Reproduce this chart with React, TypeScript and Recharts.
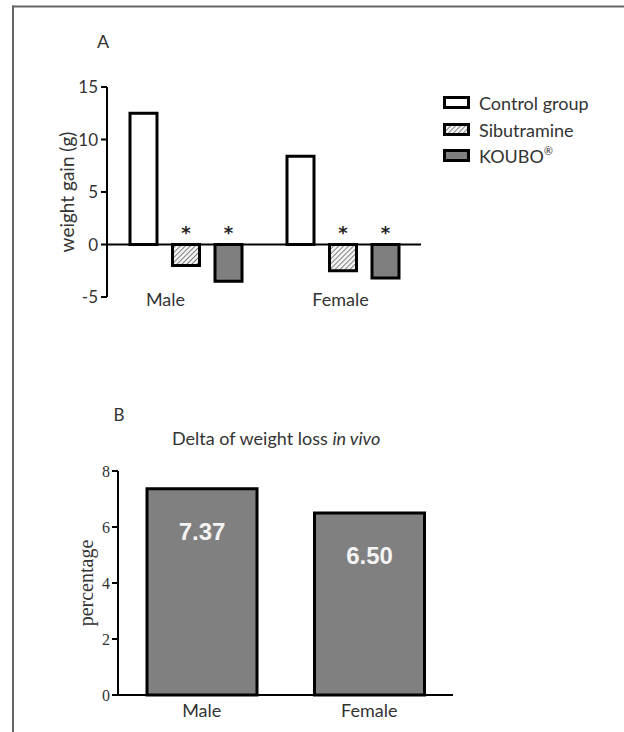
import React from 'react';
import { BarChart, Bar, XAxis, YAxis, ReferenceLine, Legend, LabelList } from 'recharts';

// ---------- data ----------
const sexes = ['Male', 'Female'];
const controlGain = [12.5, 8.4];
const sibutramineGain = [-2.0, -2.5];
const kouboGain = [-3.5, -3.2];
const gainTicks = [-5, 0, 5, 10, 15];
const seriesNames = ['Control group', 'Sibutramine', 'KOUBO®'];

const lossPercent = [7.37, 6.5];
const lossTicks = [0, 2, 4, 6, 8];

const gainData = sexes.map((s, i) => ({
  sex: s,
  control: controlGain[i],
  sibutramine: sibutramineGain[i],
  koubo: kouboGain[i],
}));
const lossData = sexes.map((s, i) => ({ sex: s, loss: lossPercent[i] }));

// ---------- styles ----------
const SANS = 'Lato, "Open Sans", sans-serif';
const SERIF = '"Liberation Serif", "DejaVu Serif", serif';
const TEXT = '#333';
const tickShiftA: Record<string, number> = { Male: -20, Female: -2 };

const GainTick = (props: any) => {
  const { x, y, payload } = props;
  return (
    <text x={x + (tickShiftA[payload.value] ?? 0)} y={y + 9} textAnchor="middle" fontFamily={SANS} fontSize={18} fill={TEXT}>
      {payload.value}
    </text>
  );
};

const LossTick = (props: any) => {
  const { x, y, payload } = props;
  return (
    <text x={x} y={y + 22} textAnchor="middle" fontFamily={SANS} fontSize={18} fill={TEXT}>
      {payload.value}
    </text>
  );
};

const Star = (props: any) => {
  const { x, y, width, height } = props;
  const top = Math.min(y, y + height);
  return (
    <text x={x + width / 2} y={top - 6} textAnchor="middle" fontFamily="DejaVu Sans" fontWeight="bold" fontSize={18} fill="#222">
      *
    </text>
  );
};

const ValueLabel = (props: any) => {
  const { x, y, width, value } = props;
  return (
    <text x={x + width / 2} y={y + 51} textAnchor="middle" fontFamily='"Liberation Sans", Arial, sans-serif' fontWeight="bold" fontSize={24} fill="#f4f4f4">
      {Number(value).toFixed(2)}
    </text>
  );
};

const renderName = (name: string) => {
  if (name.endsWith('®')) {
    return (
      <>
        {name.slice(0, -1)}
        <span style={{ fontSize: 11, verticalAlign: 'top', position: 'relative', top: -1 }}>®</span>
      </>
    );
  }
  return name;
};

const LegendContent = (props: any) => {
  const payload = [...(props.payload || [])].sort(
    (a: any, b: any) => seriesNames.indexOf(a.value) - seriesNames.indexOf(b.value)
  );
  return (
    <div style={{ fontFamily: SANS, fontSize: 18, color: TEXT }}>
      {payload.map((e: any) => (
        <div key={e.value} style={{ display: 'flex', alignItems: 'center', height: 26.5 }}>
          <svg width={28} height={14} style={{ marginRight: 8, overflow: 'visible' }}>
            <rect x={1.5} y={1.5} width={24} height={10} fill={e.color} stroke="#000" strokeWidth={3} />
          </svg>
          <span>{renderName(e.value)}</span>
        </div>
      ))}
    </div>
  );
};

export default function App() {
  return (
    <div style={{ position: 'absolute', left: 0, top: 0, width: 624, height: 732, background: '#fff', overflow: 'hidden' }}>
      <svg width={0} height={0} style={{ position: 'absolute' }}>
        <defs>
          <pattern id="hatch" patternUnits="userSpaceOnUse" width={3.5} height={3.5} patternTransform="rotate(45)">
            <rect width={3.5} height={3.5} fill="#f2f2f2" />
            <line x1={0} y1={0} x2={0} y2={3.5} stroke="#6a6a6a" strokeWidth={1.6} />
          </pattern>
        </defs>
      </svg>

      {/* Panel A */}
      <div style={{ position: 'absolute', left: 0, top: 0 }}>
        <BarChart
          width={624}
          height={340}
          data={gainData}
          margin={{ top: 87, right: 203, bottom: 13, left: 27 }}
          barSize={27}
          barGap={15.5}
        >
          <XAxis dataKey="sex" axisLine={false} tickLine={false} tickSize={0} tickMargin={0} height={30} tick={<GainTick />} />
          <YAxis
            width={80}
            domain={[-5, 15]}
            ticks={gainTicks}
            interval={0}
            tickSize={6}
            tickMargin={3}
            axisLine={{ stroke: '#000', strokeWidth: 2 }}
            tickLine={{ stroke: '#000', strokeWidth: 2 }}
            tick={{ fontFamily: SANS, fontSize: 17, fill: TEXT }}
            label={{ value: 'weight gain (g)', angle: -90, position: 'center', fontFamily: SANS, fontSize: 19, fill: TEXT }}
          />
          <ReferenceLine y={0} stroke="#000" strokeWidth={2} />
          <Legend layout="vertical" align="center" verticalAlign="middle" content={<LegendContent />}
            wrapperStyle={{ position: 'absolute', left: 443, top: 90, width: 180, height: 85 }} />
          <Bar dataKey="control" name={seriesNames[0]} fill="#ffffff" stroke="#000" strokeWidth={3} isAnimationActive={false} />
          <Bar dataKey="sibutramine" name={seriesNames[1]} fill="url(#hatch)" stroke="#000" strokeWidth={3} isAnimationActive={false}>
            <LabelList dataKey="sibutramine" content={<Star />} />
          </Bar>
          <Bar dataKey="koubo" name={seriesNames[2]} fill="#7f7f7f" stroke="#000" strokeWidth={3} isAnimationActive={false}>
            <LabelList dataKey="koubo" content={<Star />} />
          </Bar>
        </BarChart>
      </div>

      {/* Panel B */}
      <div style={{ position: 'absolute', left: 0, top: 380 }}>
        <BarChart
          width={624}
          height={352}
          data={lossData}
          margin={{ top: 91, right: 171, bottom: 7, left: 54 }}
          barSize={110}
        >
          <XAxis dataKey="sex" axisLine={{ stroke: '#000', strokeWidth: 2 }} tickLine={false} tickSize={0} tickMargin={0} height={30} tick={<LossTick />} />
          <YAxis
            width={64}
            domain={[0, 8]}
            ticks={lossTicks}
            interval={0}
            tickSize={6}
            tickMargin={2}
            axisLine={{ stroke: '#000', strokeWidth: 2 }}
            tickLine={{ stroke: '#000', strokeWidth: 2 }}
            tick={{ fontFamily: SERIF, fontSize: 16, fill: TEXT }}
            label={{ value: 'percentage', angle: -90, position: 'center', fontFamily: SERIF, fontSize: 20, fill: TEXT }}
          />
          <Bar dataKey="loss" fill="#808080" stroke="#000" strokeWidth={3} isAnimationActive={false}>
            <LabelList dataKey="loss" content={<ValueLabel />} />
          </Bar>
        </BarChart>
      </div>

      {/* Frame and panel captions */}
      <svg width={624} height={732} style={{ position: 'absolute', left: 0, top: 0, pointerEvents: 'none' }}>
        <line x1={13} y1={5.5} x2={13} y2={732} stroke="#666" strokeWidth={2} />
        <line x1={12} y1={6.5} x2={624} y2={6.5} stroke="#666" strokeWidth={2} />
        <text x={103} y={48} textAnchor="middle" fontFamily={SANS} fontSize={18} fill={TEXT}>A</text>
        <text x={119} y={420.5} textAnchor="middle" fontFamily={SANS} fontSize={17} fill={TEXT}>B</text>
        <text x={172} y={445} fontFamily={SANS} fontSize={18} fill={TEXT}>
          Delta of weight loss <tspan fontStyle="italic">in vivo</tspan>
        </text>
      </svg>
    </div>
  );
}
